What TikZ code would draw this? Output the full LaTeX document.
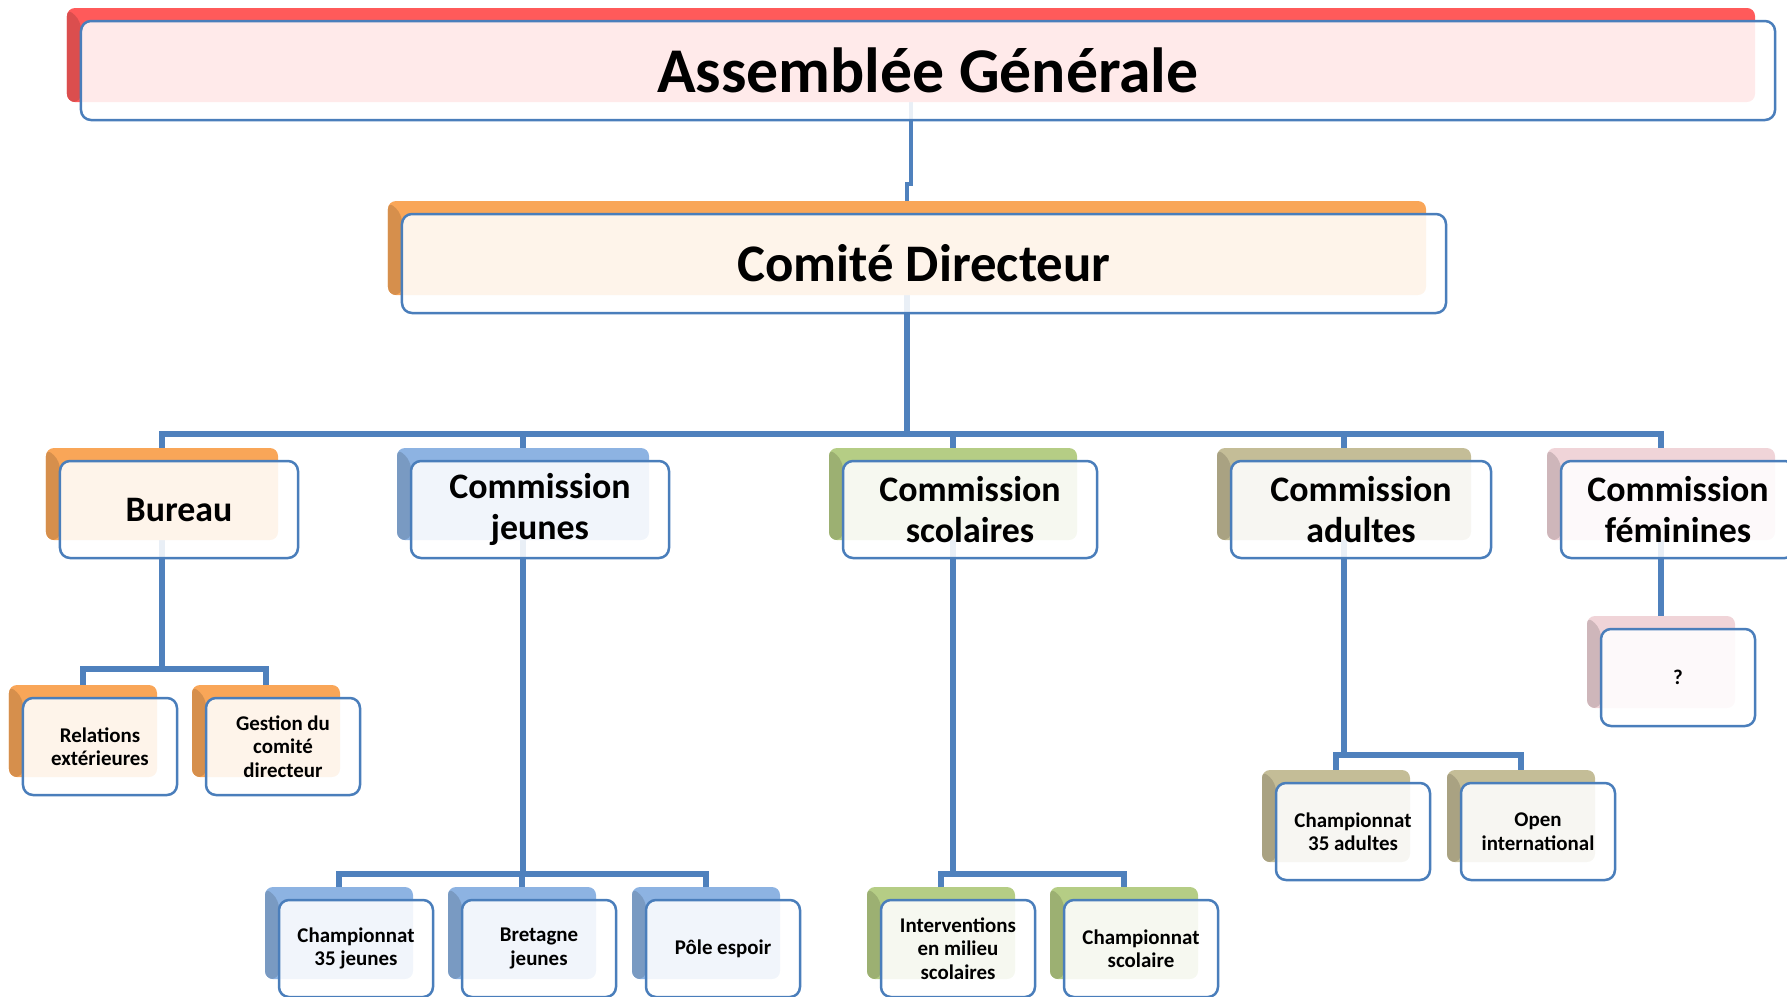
\documentclass[tikz,border=0pt]{standalone}
\usepackage{fontspec}
\setmainfont{Carlito}
\usetikzlibrary{calc}
\definecolor{linkblue}{RGB}{79,129,189}
\definecolor{edgeblue}{RGB}{74,126,187}
\definecolor{agred}{RGB}{255,90,90}
\definecolor{cdorange}{RGB}{249,166,88}
\definecolor{cjblue}{RGB}{141,179,226}
\definecolor{csgreen}{RGB}{181,205,133}
\definecolor{catan}{RGB}{196,189,151}
\definecolor{cfpink}{RGB}{240,212,216}
\pgfdeclarelayer{bg}
\pgfsetlayers{bg,main}
\tikzset{
  backbox/.style={rounded corners=8bp, fill=#1, inner sep=0pt,
    path picture={\fill[#1!86!black] (path picture bounding box.north west) -- ++(14,13)
      |- (path picture bounding box.south west) -- cycle;}},
  frontbox/.style={rounded corners=10bp, draw=edgeblue, line width=2.5bp, fill=white,
    fill opacity=0.88, draw opacity=1, text opacity=1, align=center, inner sep=0pt},
  hugetxt/.style={font=\bfseries\fontsize{64}{70}\selectfont},
  largetxt/.style={font=\bfseries\fontsize{53}{58}\selectfont},
  midtxt/.style={font=\bfseries\fontsize{36}{42}\selectfont},
  smalltxt/.style={font=\bfseries\fontsize{21}{23.5}\selectfont},
  link/.style={draw=linkblue, line width=5.5bp},
}
% [text style]{name}{centre of back box}{width}{height}{colour}{text}
\newcommand{\orgunit}[7][]{%
  \node[backbox=#6, minimum width=#4bp, minimum height=#5bp] (#2-b) at (#3) {};
  \node[frontbox, #1, minimum width=#4bp+6bp, minimum height=#5bp+5bp] (#2) at ($(#2-b)+(17,15.5)$) {#7};
}
\begin{document}
\begin{tikzpicture}[x=1bp,y=-1bp]
  \useasboundingbox (0,0) rectangle (1787,996);
%%
  % Node: Assemblée Générale
  \orgunit[hugetxt]{ag}{911,55}{1688}{94}{agred}{Assemblée Générale}
  % Node: Comité Directeur
  \orgunit[largetxt]{cd}{907,248}{1038}{94}{cdorange}{Comité Directeur}
  % Node: Bureau
  \orgunit[midtxt]{bureau}{162,494}{232}{92}{cdorange}{Bureau}
  % Node: Commission jeunes
  \orgunit[midtxt]{jeunes}{523,494}{252}{92}{cjblue}{Commission\\jeunes}
  % Node: Commission scolaires
  \orgunit[midtxt]{scolaires}{953,494}{248}{92}{csgreen}{Commission\\scolaires}
  % Node: Commission adultes
  \orgunit[midtxt]{adultes}{1344,494}{254}{92}{catan}{Commission\\adultes}
  % Node: Commission féminines
  \orgunit[midtxt]{feminines}{1661,494}{228}{92}{cfpink}{Commission\\féminines}
  % Node: Relations extérieures
  \orgunit[smalltxt]{relations}{83,731}{148}{92}{cdorange}{Relations\\extérieures}
  % Node: Gestion du comité directeur
  \orgunit[smalltxt]{gestion}{266,731}{148}{92}{cdorange}{Gestion du\\comité\\directeur}
  % Node: Championnat 35 jeunes
  \orgunit[smalltxt]{champj}{339,933}{148}{92}{cjblue}{Championnat\\35 jeunes}
  % Node: Bretagne jeunes
  \orgunit[smalltxt]{bretagne}{522,933}{148}{92}{cjblue}{Bretagne\\jeunes}
  % Node: Pôle espoir
  \orgunit[smalltxt]{pole}{706,933}{148}{92}{cjblue}{Pôle espoir}
  % Node: Interventions en milieu scolaires
  \orgunit[smalltxt]{interv}{941,933}{148}{92}{csgreen}{Interventions\\en milieu\\scolaires}
  % Node: Championnat scolaire
  \orgunit[smalltxt]{champs}{1124,933}{148}{92}{csgreen}{Championnat\\scolaire}
  % Node: Championnat 35 adultes
  \orgunit[smalltxt]{champa}{1336,816}{148}{92}{catan}{Championnat\\35 adultes}
  % Node: Open international
  \orgunit[smalltxt]{open}{1521,816}{148}{92}{catan}{Open\\international}
  % Node: ?
  \orgunit[smalltxt]{question}{1661,662}{148}{92}{cfpink}{?}
%%
\begin{pgfonlayer}{bg}
  \coordinate (bar1) at (0,434);
  \coordinate (bar2) at (0,669);
  \coordinate (bar3) at (0,874);
  \coordinate (bar4) at (0,755);
  % Edge: Assemblée Générale -> Comité Directeur
  \draw[link, line width=4bp] (ag-b) |- ($(cd-b.north)+(0,-17)$) -- (cd-b.north);
  % Edge: Comité Directeur -> Bureau
  \draw[link] (cd-b) -- (cd-b |- bar1) -| (bureau-b.north);
  % Edge: Comité Directeur -> Commission jeunes
  \draw[link] (cd-b) -- (cd-b |- bar1) -| (jeunes-b.north);
  % Edge: Comité Directeur -> Commission scolaires
  \draw[link] (cd-b) -- (cd-b |- bar1) -| (scolaires-b.north);
  % Edge: Comité Directeur -> Commission adultes
  \draw[link] (cd-b) -- (cd-b |- bar1) -| (adultes-b.north);
  % Edge: Comité Directeur -> Commission féminines
  \draw[link] (cd-b) -- (cd-b |- bar1) -| (feminines-b.north);
  % Edge: Bureau -> Relations extérieures
  \draw[link] (bureau-b) -- (bureau-b |- bar2) -| (relations-b.north);
  % Edge: Bureau -> Gestion du comité directeur
  \draw[link] (bureau-b) -- (bureau-b |- bar2) -| (gestion-b.north);
  % Edge: Commission jeunes -> Championnat 35 jeunes
  \draw[link] (jeunes-b) -- (jeunes-b |- bar3) -| (champj-b.north);
  % Edge: Commission jeunes -> Bretagne jeunes
  \draw[link] (jeunes-b) -- (jeunes-b |- bar3) -| (bretagne-b.north);
  % Edge: Commission jeunes -> Pôle espoir
  \draw[link] (jeunes-b) -- (jeunes-b |- bar3) -| (pole-b.north);
  % Edge: Commission scolaires -> Interventions en milieu scolaires
  \draw[link] (scolaires-b) -- (scolaires-b |- bar3) -| (interv-b.north);
  % Edge: Commission scolaires -> Championnat scolaire
  \draw[link] (scolaires-b) -- (scolaires-b |- bar3) -| (champs-b.north);
  % Edge: Commission adultes -> Championnat 35 adultes
  \draw[link] (adultes-b) -- (adultes-b |- bar4) -| (champa-b.north);
  % Edge: Commission adultes -> Open international
  \draw[link] (adultes-b) -- (adultes-b |- bar4) -| (open-b.north);
  % Edge: Commission féminines -> ?
  \draw[link] (feminines-b) -- (question-b.north);
\end{pgfonlayer}
%
\end{tikzpicture}
\end{document}
